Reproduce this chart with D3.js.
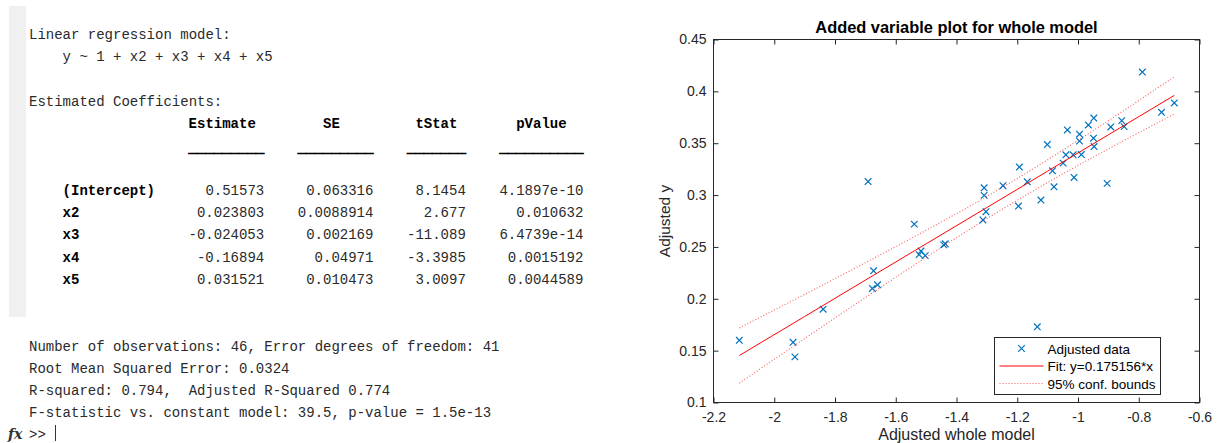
<!DOCTYPE html>
<html>
<head>
<meta charset="utf-8">
<script src="https://cdn.jsdelivr.net/npm/d3@7"></script>
<style>
  body { margin: 0; background: #fff; }
  svg text { font-family: "Liberation Sans", Arial, sans-serif; }
  .mono { font-family: "Liberation Mono", "Courier New", monospace !important; font-size: 14px; fill: #2a2a2a; }
  .bold { font-weight: bold; fill: #000; }
</style>
</head>
<body>
<div id="container"></div>
<script>
const W = 1217;
const H = 443;

// ---- command window text ----
const introLines = ["Linear regression model:", "    y ~ 1 + x2 + x3 + x4 + x5", "", "Estimated Coefficients:"];
const colHeaders = ["Estimate", "SE", "tStat", "pValue"];
const coefNames = ["(Intercept)", "x2", "x3", "x4", "x5"];
const estimate = ["0.51573", "0.023803", "-0.024053", "-0.16894", "0.031521"];
const stdErr = ["0.063316", "0.0088914", "0.002169", "0.04971", "0.010473"];
const tStat = ["8.1454", "2.677", "-11.089", "-3.3985", "3.0097"];
const pValue = ["4.1897e-10", "0.010632", "6.4739e-14", "0.0015192", "0.0044589"];
const summaryLines = [
    "Number of observations: 46, Error degrees of freedom: 41",
    "Root Mean Squared Error: 0.0324",
    "R-squared: 0.794,  Adjusted R-Squared 0.774",
    "F-statistic vs. constant model: 39.5, p-value = 1.5e-13"
];

// ---- added variable plot ----
const xTicks = [-2.2, -2, -1.8, -1.6, -1.4, -1.2, -1, -0.8, -0.6];
const yTicks = [0.1, 0.15, 0.2, 0.25, 0.3, 0.35, 0.4, 0.45];
const ptX = [-2.115, -1.938, -1.932, -1.839, -1.673, -1.677, -1.660, -1.691, -1.539, -1.523, -1.517, -1.503,
    -1.442, -1.437, -1.134, -1.313, -1.303, -1.309, -1.309, -1.247, -1.196, -1.193, -1.167, -1.122,
    -1.101, -1.084, -1.079, -1.049, -1.040, -1.035, -1.016, -1.013, -0.995, -0.995, -0.989, -0.966,
    -0.948, -0.949, -0.947, -0.904, -0.892, -0.856, -0.848, -0.788, -0.725, -0.683];
const ptY = [0.160, 0.158, 0.144, 0.190, 0.227, 0.210, 0.2135, 0.313, 0.272, 0.2426, 0.246, 0.2416,
    0.252, 0.253, 0.173, 0.276, 0.284, 0.2997, 0.307, 0.309, 0.2894, 0.327, 0.3128, 0.2952,
    0.3487, 0.3234, 0.308, 0.3308, 0.3388, 0.3628, 0.3388, 0.317, 0.3587, 0.352, 0.3391, 0.3676,
    0.3743, 0.3548, 0.3468, 0.3113, 0.3657, 0.3718, 0.366, 0.4186, 0.3798, 0.3888];
// fit line and 95% bounds
const bandX = [-2.115, -1.9, -1.7, -1.5, -1.3, -1.2, -1.1, -0.9, -0.683];
const fitY = [0.1453, 0.1829, 0.2180, 0.2530, 0.2880, 0.3055, 0.3231, 0.3581, 0.3961];
const upperY = [0.1719, 0.2042, 0.2348, 0.2660, 0.2987, 0.3160, 0.3341, 0.3717, 0.4141];
const lowerY = [0.1187, 0.1616, 0.2012, 0.2400, 0.2773, 0.2950, 0.3121, 0.3445, 0.3781];
const legendLabels = ["Adjusted data", "Fit: y=0.175156*x", "95% conf. bounds"];

const blue = "#0072bd";
const axisCol = "#262626";

const svg = d3.select("#container").append("svg")
    .attr("width", W)
    .attr("height", H);

// ===== left: text panel =====
const x0 = 29, cw = 8.4, lineH = 22.25;
const base = i => 39.2 + lineH * i;
const colX = c => x0 + c * cw;

svg.append("rect")
    .attr("x", 9).attr("y", 6)
    .attr("width", 17).attr("height", 311)
    .attr("fill", "#f0f0f0");

const txt = svg.append("g");

introLines.forEach((s, i) => {
    txt.append("text").attr("class", "mono")
        .attr("x", x0).attr("y", base(i))
        .attr("xml:space", "preserve")
        .text(s);
});

// column layout (MATLAB style: char columns)
const colStart = [19, 32, 45, 56];
const colWidth = [9, 9, 7, 10];
const headStart = [19, 35, 46, 58];

colHeaders.forEach((h, j) => {
    txt.append("text").attr("class", "mono bold")
        .attr("x", colX(headStart[j]))
        .attr("y", base(4))
        .text(h);
    txt.append("text").attr("class", "mono bold")
        .attr("x", colX(colStart[j]))
        .attr("y", base(5) + 2)
        .attr("stroke", "#000")
        .attr("stroke-width", 0.9)
        .text("_".repeat(colWidth[j]));
});

const cols = [estimate, stdErr, tStat, pValue];
coefNames.forEach((n, r) => {
    txt.append("text").attr("class", "mono bold")
        .attr("x", colX(4)).attr("y", base(7 + r))
        .text(n);
    cols.forEach((arr, j) => {
        txt.append("text").attr("class", "mono")
            .attr("x", colX(colStart[j] + colWidth[j]))
            .attr("y", base(7 + r))
            .attr("text-anchor", "end")
            .text(arr[r]);
    });
});

summaryLines.forEach((s, i) => {
    txt.append("text").attr("class", "mono")
        .attr("x", x0).attr("y", base(14 + i))
        .attr("xml:space", "preserve")
        .text(s);
});

// prompt
txt.append("text")
    .attr("x", 8).attr("y", base(18) - 1)
    .style("font-family", "'DejaVu Serif', serif")
    .style("font-style", "italic")
    .style("font-weight", "bold")
    .style("font-size", "14px")
    .attr("fill", "#333")
    .text("fx");
txt.append("text").attr("class", "mono")
    .attr("x", x0).attr("y", base(18) - 1)
    .text(">>");
txt.append("line")
    .attr("x1", 55.5).attr("x2", 55.5)
    .attr("y1", 425).attr("y2", 441)
    .attr("stroke", "#333").attr("stroke-width", 1);

// ===== right: scatter plot =====
const pLeft = 713.5, pRight = 1199.5, pTop = 39.5, pBottom = 402.5;

const xScale = d3.scaleLinear().domain([-2.2, -0.6]).range([pLeft, pRight]);
const yScale = d3.scaleLinear().domain([0.1, 0.45]).range([pBottom, pTop]);
const fmt = d => String(+d.toFixed(2));

const plot = svg.append("g");

function styleAxis(g) {
    g.select(".domain").remove();
    g.selectAll(".tick line").attr("stroke", axisCol);
    g.selectAll(".tick text")
        .attr("fill", axisCol)
        .style("font-size", "14px")
        .style("font-family", "'Liberation Sans', Arial, sans-serif");
}

plot.append("g")
    .attr("transform", "translate(0," + pBottom + ")")
    .call(d3.axisBottom(xScale).tickValues(xTicks).tickFormat(fmt)
        .tickSizeInner(-5).tickSizeOuter(0).tickPadding(10))
    .call(styleAxis);

plot.append("g")
    .attr("transform", "translate(0," + pTop + ")")
    .call(d3.axisTop(xScale).tickValues(xTicks).tickFormat("")
        .tickSizeInner(-5).tickSizeOuter(0))
    .call(styleAxis);

plot.append("g")
    .attr("transform", "translate(" + pLeft + ",0)")
    .call(d3.axisLeft(yScale).tickValues(yTicks).tickFormat(fmt)
        .tickSizeInner(-5).tickSizeOuter(0).tickPadding(7))
    .call(styleAxis);

plot.append("g")
    .attr("transform", "translate(" + pRight + ",0)")
    .call(d3.axisRight(yScale).tickValues(yTicks).tickFormat("")
        .tickSizeInner(-5).tickSizeOuter(0))
    .call(styleAxis);

plot.append("rect")
    .attr("x", pLeft).attr("y", pTop)
    .attr("width", pRight - pLeft).attr("height", pBottom - pTop)
    .attr("fill", "none")
    .attr("stroke", axisCol)
    .attr("stroke-width", 1);

// markers
const cross = "M-3.3,-3.3L3.3,3.3M-3.3,3.3L3.3,-3.3";
plot.append("g").selectAll("path")
    .data(ptX.map((x, i) => ({ x: x, y: ptY[i] })))
    .enter().append("path")
    .attr("d", cross)
    .attr("transform", d => "translate(" + xScale(d.x) + "," + yScale(d.y) + ")")
    .attr("fill", "none")
    .attr("stroke", blue)
    .attr("stroke-width", 1.2);

const line = d3.line()
    .x(d => xScale(d[0]))
    .y(d => yScale(d[1]));

plot.append("path")
    .attr("d", line(bandX.map((x, i) => [x, fitY[i]])))
    .attr("fill", "none").attr("stroke", "#ff0000").attr("stroke-width", 1);

[upperY, lowerY].forEach(arr => {
    plot.append("path")
        .attr("d", d3.line().curve(d3.curveMonotoneX).x(d => xScale(d[0])).y(d => yScale(d[1]))(bandX.map((x, i) => [x, arr[i]])))
        .attr("fill", "none").attr("stroke", "#ff0000").attr("stroke-width", 1.1)
        .attr("stroke-opacity", 0.65)
        .attr("stroke-dasharray", "1 2");
});

// title and labels
plot.append("text")
    .attr("x", (pLeft + pRight) / 2).attr("y", 33)
    .attr("text-anchor", "middle")
    .style("font-size", "16.4px").style("font-weight", "bold")
    .attr("fill", "#000")
    .text("Added variable plot for whole model");

plot.append("text")
    .attr("transform", "translate(670," + (pTop + pBottom) / 2 + ") rotate(-90)")
    .attr("text-anchor", "middle")
    .style("font-size", "15.5px")
    .attr("fill", axisCol)
    .text("Adjusted y");

plot.append("text")
    .attr("x", (pLeft + pRight) / 2).attr("y", 440)
    .attr("text-anchor", "middle")
    .style("font-size", "16px")
    .attr("fill", axisCol)
    .text("Adjusted whole model");

// legend
const lg = plot.append("g").attr("transform", "translate(994.5,337.5)");
lg.append("rect")
    .attr("width", 166).attr("height", 57)
    .attr("fill", "#fff").attr("stroke", axisCol).attr("stroke-width", 1);

const rowY = [11, 28.5, 46];
lg.append("path").attr("d", cross)
    .attr("transform", "translate(27," + rowY[0] + ")")
    .attr("fill", "none").attr("stroke", blue).attr("stroke-width", 1.2);
lg.append("line")
    .attr("x1", 5).attr("x2", 49).attr("y1", rowY[1]).attr("y2", rowY[1])
    .attr("stroke", "#ff0000");
lg.append("line")
    .attr("x1", 5).attr("x2", 49).attr("y1", rowY[2]).attr("y2", rowY[2])
    .attr("stroke", "#ff0000").attr("stroke-opacity", 0.65).attr("stroke-dasharray", "1 2");

lg.selectAll("text.lab")
    .data(legendLabels)
    .enter().append("text")
    .attr("class", "lab")
    .attr("x", 53)
    .attr("y", (d, i) => rowY[i] + 5)
    .style("font-size", "13.5px")
    .attr("fill", "#000")
    .text(d => d);
</script>
</body>
</html>
